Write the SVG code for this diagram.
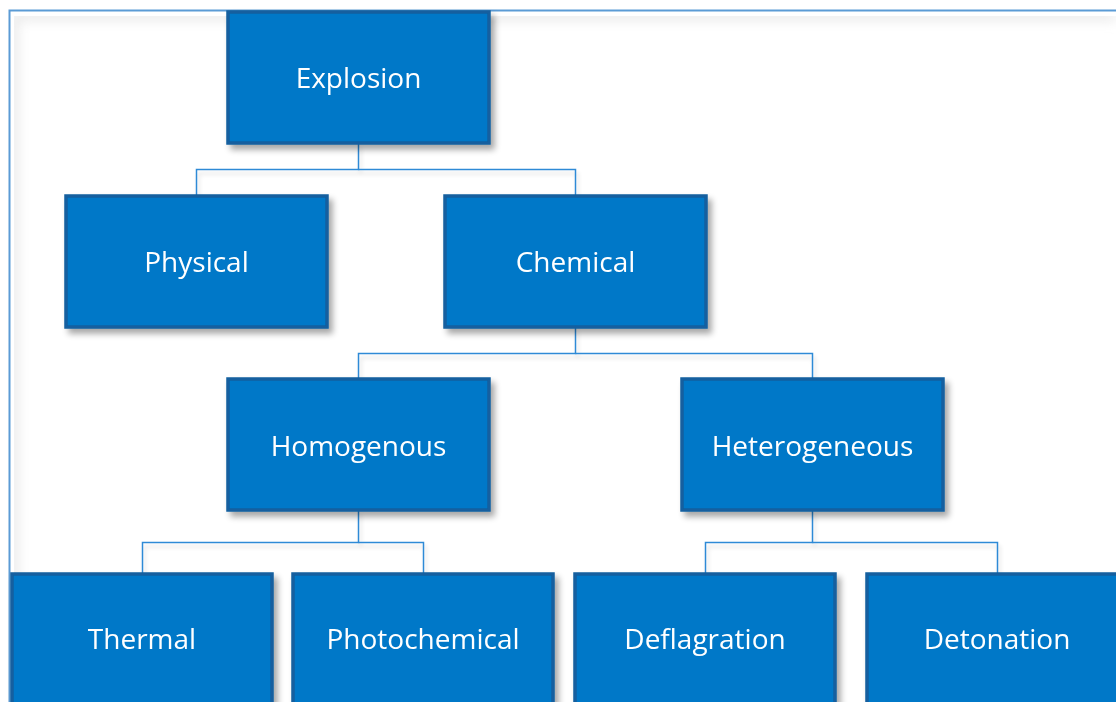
<svg xmlns="http://www.w3.org/2000/svg" width="1116" height="702" viewBox="0 0 1116 702">
  <defs>
    <filter id="shadow" x="-10%" y="-10%" width="130%" height="130%">
      <feGaussianBlur in="SourceAlpha" stdDeviation="3"/>
      <feOffset dx="4" dy="5" result="b"/>
      <feComponentTransfer><feFuncA type="linear" slope="0.35"/></feComponentTransfer>
      <feMerge><feMergeNode/><feMergeNode in="SourceGraphic"/></feMerge>
    </filter>
    <filter id="lineShadow" x="-5%" y="-50%" width="110%" height="300%">
      <feGaussianBlur in="SourceAlpha" stdDeviation="2"/>
      <feOffset dx="2" dy="4" result="b"/>
      <feComponentTransfer><feFuncA type="linear" slope="0.15"/></feComponentTransfer>
      <feMerge><feMergeNode/><feMergeNode in="SourceGraphic"/></feMerge>
    </filter>
    <filter id="inner" x="0" y="0" width="100%" height="100%">
      <feGaussianBlur stdDeviation="6"/>
    </filter>
  </defs>
  <style>
    .box { fill: #0078c8; stroke: #135f9f; stroke-width: 3.5; }
    .label { font-family: "Open Sans", "Liberation Sans", sans-serif; font-size: 28px; fill: #ffffff; text-anchor: middle; dominant-baseline: central; }
    .conn { fill: none; stroke: #2e8ad6; stroke-width: 1.5; }
  </style>

  <!-- page background and frame -->
  <rect width="1116" height="702" fill="#ffffff"/>
  <path d="M14 16 H1116 M14 16 V702" stroke="#e6e6e6" stroke-width="8" filter="url(#inner)" fill="none"/>
  <path d="M9.5 702 V10.5 H1116" stroke="#5b9bd5" stroke-width="2" fill="none"/>

  <!-- connectors -->
  <g id="connectors" class="conn" filter="url(#lineShadow)">
    <path d="M358.5 143 V169.5 H196.5 V195"/>
    <path d="M358.5 169.5 H575.5 V195"/>
    <path d="M575.5 327 V353.5 H358.5 V379"/>
    <path d="M575.5 353.5 H812.5 V379"/>
    <path d="M358.5 510 V542.5 H142.5 V573"/>
    <path d="M358.5 542.5 H423.5 V573"/>
    <path d="M812.5 510 V542.5 H705.5 V573"/>
    <path d="M812.5 542.5 H997.5 V573"/>
  </g>

  <g id="explosion" filter="url(#shadow)">
    <rect class="box" x="228" y="12" width="261" height="131"/>
    <text class="label" x="358.5" y="77">Explosion</text>
  </g>
  <g id="physical" filter="url(#shadow)">
    <rect class="box" x="66" y="196" width="261" height="131"/>
    <text class="label" x="196.5" y="261">Physical</text>
  </g>
  <g id="chemical" filter="url(#shadow)">
    <rect class="box" x="445" y="196" width="261" height="131"/>
    <text class="label" x="575.5" y="261">Chemical</text>
  </g>
  <g id="homogenous" filter="url(#shadow)">
    <rect class="box" x="228" y="379" width="261" height="131"/>
    <text class="label" x="358.5" y="445">Homogenous</text>
  </g>
  <g id="heterogeneous" filter="url(#shadow)">
    <rect class="box" x="682" y="379" width="261" height="131"/>
    <text class="label" x="812.5" y="445">Heterogeneous</text>
  </g>
  <g id="thermal" filter="url(#shadow)">
    <rect class="box" x="12" y="574" width="260" height="140"/>
    <text class="label" x="142" y="638">Thermal</text>
  </g>
  <g id="photochemical" filter="url(#shadow)">
    <rect class="box" x="293" y="574" width="260" height="140"/>
    <text class="label" x="423" y="638">Photochemical</text>
  </g>
  <g id="deflagration" filter="url(#shadow)">
    <rect class="box" x="575" y="574" width="260" height="140"/>
    <text class="label" x="705" y="638">Deflagration</text>
  </g>
  <g id="detonation" filter="url(#shadow)">
    <rect class="box" x="867" y="574" width="260" height="140"/>
    <text class="label" x="997" y="638">Detonation</text>
  </g>
</svg>
